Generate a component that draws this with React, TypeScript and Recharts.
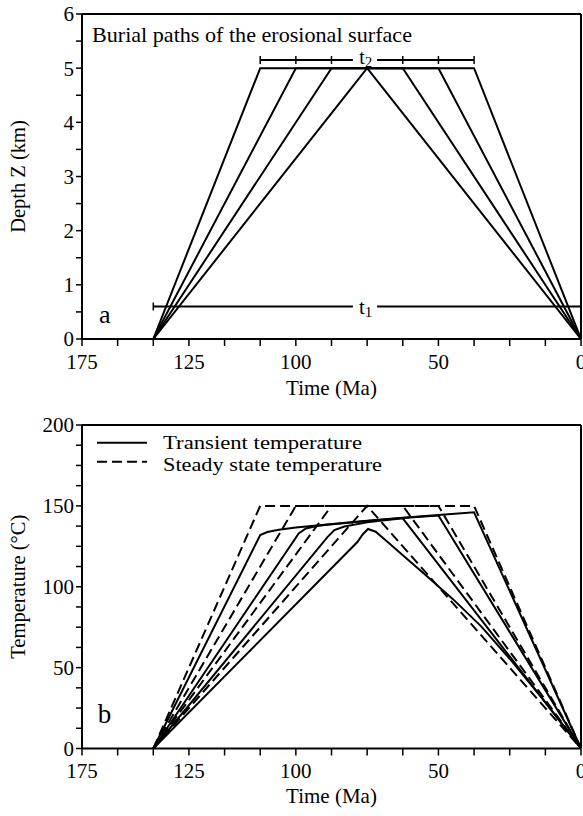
import { LineChart, Line, XAxis, YAxis, ReferenceLine, ReferenceDot } from "recharts"

const serif = '"Liberation Serif", "Times New Roman", serif'

// time axis (Ma), ticks every 12.5; the printed labels sit where the original figure puts them
const timeTicks = [175, 162.5, 150, 137.5, 125, 112.5, 100, 87.5, 75, 62.5, 50, 37.5, 25, 12.5, 0]
const timeLabels: Record<string, string> = { "175": "175", "137.5": "125", "100": "100", "50": "50", "0": "0" }
const depthTicks = [0, 0.5, 1, 1.5, 2, 2.5, 3, 3.5, 4, 4.5, 5, 5.5, 6]
const tempTicks = [0, 12.5, 25, 37.5, 50, 62.5, 75, 87.5, 100, 112.5, 125, 137.5, 150, 162.5, 175, 187.5, 200]

// (a) burial paths, depth z in km
const burial1 = [{ t: 150, z: 0 }, { t: 112.5, z: 5 }, { t: 37.5, z: 5 }, { t: 0, z: 0 }]
const burial2 = [{ t: 150, z: 0 }, { t: 100, z: 5 }, { t: 50, z: 5 }, { t: 0, z: 0 }]
const burial3 = [{ t: 150, z: 0 }, { t: 87.5, z: 5 }, { t: 62.5, z: 5 }, { t: 0, z: 0 }]
const burial4 = [{ t: 150, z: 0 }, { t: 75, z: 5 }, { t: 0, z: 0 }]

// t1 / t2 brackets
const t1Left = [{ t: 150, z: 0.6 }, { t: 80, z: 0.6 }]
const t1Right = [{ t: 71.5, z: 0.6 }, { t: 0, z: 0.6 }]
const t1Marks = [{ t: 150, z: 0.6 }]
const t2Left = [{ t: 112.5, z: 5.15 }, { t: 80, z: 5.15 }]
const t2Right = [{ t: 71.5, z: 5.15 }, { t: 37.5, z: 5.15 }]
const t2Marks = [
  { t: 112.5, z: 5.15 }, { t: 100, z: 5.15 }, { t: 87.5, z: 5.15 },
  { t: 62.5, z: 5.15 }, { t: 50, z: 5.15 }, { t: 37.5, z: 5.15 },
]

// (b) steady state temperature (°C)
const steady1 = [{ t: 150, T: 0 }, { t: 112.5, T: 150 }, { t: 37.5, T: 150 }, { t: 0, T: 0 }]
const steady2 = [{ t: 150, T: 0 }, { t: 100, T: 150 }, { t: 50, T: 150 }, { t: 0, T: 0 }]
const steady3 = [{ t: 150, T: 0 }, { t: 87.5, T: 150 }, { t: 62.5, T: 150 }, { t: 0, T: 0 }]
const steady4 = [{ t: 150, T: 0 }, { t: 75, T: 150 }, { t: 0, T: 0 }]

// (b) transient temperature (°C)
const transient1 = [
  { t: 150, T: 0 }, { t: 112.5, T: 132 }, { t: 110, T: 133.8 }, { t: 106, T: 135.2 },
  { t: 100, T: 136.6 }, { t: 90, T: 138.4 }, { t: 75, T: 140.8 }, { t: 62.5, T: 142.7 },
  { t: 50, T: 144.3 }, { t: 37.5, T: 146 }, { t: 0, T: 0 },
]
const transient2 = [
  { t: 150, T: 0 }, { t: 99, T: 133 }, { t: 96.5, T: 136 }, { t: 93, T: 137.4 },
  { t: 90, T: 138.2 }, { t: 75, T: 140.6 }, { t: 62.5, T: 142.5 }, { t: 50, T: 144 }, { t: 0, T: 0 },
]
const transient3 = [
  { t: 150, T: 0 }, { t: 89, T: 130.5 }, { t: 86.5, T: 135 }, { t: 83, T: 137.2 },
  { t: 75, T: 139.8 }, { t: 62.5, T: 142.3 }, { t: 0, T: 0 },
]
const transient4 = [
  { t: 150, T: 0 }, { t: 78.5, T: 127.5 }, { t: 76.5, T: 132.5 }, { t: 74.7, T: 135.7 },
  { t: 72, T: 134 }, { t: 68, T: 128 }, { t: 63.5, T: 121 }, { t: 55, T: 108 },
  { t: 45, T: 92.5 }, { t: 35, T: 75.5 }, { t: 25, T: 55.5 }, { t: 15, T: 34 },
  { t: 5, T: 11.5 }, { t: 0, T: 0 },
]

const tickStyle = { fill: "#000", fontSize: 21, fontFamily: serif }
const axisLine = { stroke: "#000", strokeWidth: 2 }
const tickLine = { stroke: "#000", strokeWidth: 1.5 }

function AxisTitle(props: any) {
  const { viewBox, text, vertical, shift } = props
  if (!viewBox) return null
  if (vertical) {
    const x = viewBox.x + shift
    const y = viewBox.y + viewBox.height / 2
    return (
      <text x={x} y={y} transform={`rotate(-90 ${x} ${y})`} textAnchor="middle" dominantBaseline="central"
        fontFamily={serif} fontSize={20.5} fill="#000">{text}</text>
    )
  }
  return (
    <text x={viewBox.x + viewBox.width / 2} y={viewBox.y + shift} textAnchor="middle"
      fontFamily={serif} fontSize={21} fill="#000">{text}</text>
  )
}

function Note(props: any) {
  const { viewBox, text, sub, size = 21, anchor = "middle", dy = 0, span } = props
  if (!viewBox) return null
  const x = viewBox.x + (viewBox.width || 0) / 2
  const y = viewBox.y + (viewBox.height || 0) / 2 + dy
  return (
    <text x={x} y={y} textAnchor={anchor} fontFamily={serif} fontSize={size} fill="#000"
      textLength={span} lengthAdjust={span ? "spacingAndGlyphs" : undefined}>
      {text}
      {sub && <tspan dy={3} fontSize={size * 0.72}>{sub}</tspan>}
    </text>
  )
}

const cap = (p: any) => (
  <line key={`cap-${p.index}`} x1={p.cx} x2={p.cx} y1={p.cy - 4} y2={p.cy + 4} stroke="#000" strokeWidth={1.5} />
)

const timeAxis = (shift: number, height: number) => (
  <XAxis
    type="number"
    dataKey="t"
    domain={[0, 175]}
    reversed
    allowDataOverflow
    ticks={timeTicks}
    interval={0}
    tickFormatter={(v) => timeLabels[String(v)] ?? ""}
    tick={tickStyle}
    tickSize={7}
    tickMargin={8}
    axisLine={axisLine}
    tickLine={tickLine}
    height={height}
    label={<AxisTitle text="Time (Ma)" shift={shift} />}
  />
)

export default function App() {
  const solid = { stroke: "#000", strokeWidth: 2, dot: false, isAnimationActive: false }
  const dashed = { ...solid, strokeDasharray: "10 5" }
  return (
    <div style={{ position: "absolute", left: 0, top: 0, width: 583, height: 816, background: "#fff" }}>
      <LineChart width={583} height={410} margin={{ top: 14, right: 2, bottom: 0, left: 0 }}>
        {timeAxis(56, 71)}
        <YAxis
          type="number"
          domain={[0, 6]}
          allowDataOverflow
          ticks={depthTicks}
          interval={0}
          tickFormatter={(v) => (Number.isInteger(v) ? String(v) : "")}
          tick={tickStyle}
          tickSize={6}
          axisLine={axisLine}
          tickLine={tickLine}
          width={82}
          label={<AxisTitle text="Depth Z (km)" vertical shift={18} />}
        />
        <ReferenceLine y={6} stroke="#000" strokeWidth={2} />
        <ReferenceLine x={0} stroke="#000" strokeWidth={2} />
        <Line data={burial1} dataKey="z" {...solid} />
        <Line data={burial2} dataKey="z" {...solid} />
        <Line data={burial3} dataKey="z" {...solid} />
        <Line data={burial4} dataKey="z" {...solid} />
        <Line data={t1Left} dataKey="z" {...solid} />
        <Line data={t1Right} dataKey="z" {...solid} />
        <Line data={t1Marks} dataKey="z" stroke="none" dot={cap} isAnimationActive={false} />
        <Line data={t2Left} dataKey="z" {...solid} />
        <Line data={t2Right} dataKey="z" {...solid} />
        <Line data={t2Marks} dataKey="z" stroke="none" dot={cap} isAnimationActive={false} />
        <ReferenceDot x={75.5} y={0.6} r={0} label={<Note text="t" sub="1" dy={7} />} />
        <ReferenceDot x={75.5} y={5.15} r={0} label={<Note text="t" sub="2" size={20} dy={4} />} />
        <ReferenceDot x={171.5} y={5.48} r={0}
          label={<Note text="Burial paths of the erosional surface" anchor="start" span={320} />} />
        <ReferenceDot x={169} y={0.3} r={0} label={<Note text="a" size={26} anchor="start" />} />
      </LineChart>
      <LineChart width={583} height={406} margin={{ top: 15, right: 2, bottom: 0, left: 0 }}>
        {timeAxis(54, 67.5)}
        <YAxis
          type="number"
          domain={[0, 200]}
          allowDataOverflow
          ticks={tempTicks}
          interval={0}
          tickFormatter={(v) => (v % 50 === 0 ? String(v) : "")}
          tick={tickStyle}
          tickSize={6}
          axisLine={axisLine}
          tickLine={tickLine}
          width={82}
          label={<AxisTitle text="Temperature (°C)" vertical shift={18} />}
        />
        <ReferenceLine y={200} stroke="#000" strokeWidth={2} />
        <ReferenceLine x={0} stroke="#000" strokeWidth={2} />
        <Line data={steady1} dataKey="T" {...dashed} />
        <Line data={steady2} dataKey="T" {...dashed} />
        <Line data={steady3} dataKey="T" {...dashed} />
        <Line data={steady4} dataKey="T" {...dashed} />
        <Line data={transient1} dataKey="T" {...solid} />
        <Line data={transient2} dataKey="T" {...solid} />
        <Line data={transient3} dataKey="T" {...solid} />
        <Line data={transient4} dataKey="T" {...solid} />
        <ReferenceDot x={169.5} y={15.5} r={0} label={<Note text="b" size={27} anchor="start" />} />
      </LineChart>
      <svg width={320} height={50} style={{ position: "absolute", left: 95, top: 430 }}>
        <line x1={2} x2={52} y1={12.7} y2={12.7} stroke="#000" strokeWidth={2} />
        <line x1={2} x2={52} y1={31.7} y2={31.7} stroke="#000" strokeWidth={2} strokeDasharray="10 5" />
        <text x={68} y={18.5} fontFamily={serif} fontSize={19.5} fill="#000"
          textLength={199} lengthAdjust="spacingAndGlyphs">Transient temperature</text>
        <text x={68} y={40.5} fontFamily={serif} fontSize={19.5} fill="#000"
          textLength={219} lengthAdjust="spacingAndGlyphs">Steady state temperature</text>
      </svg>
    </div>
  )
}
